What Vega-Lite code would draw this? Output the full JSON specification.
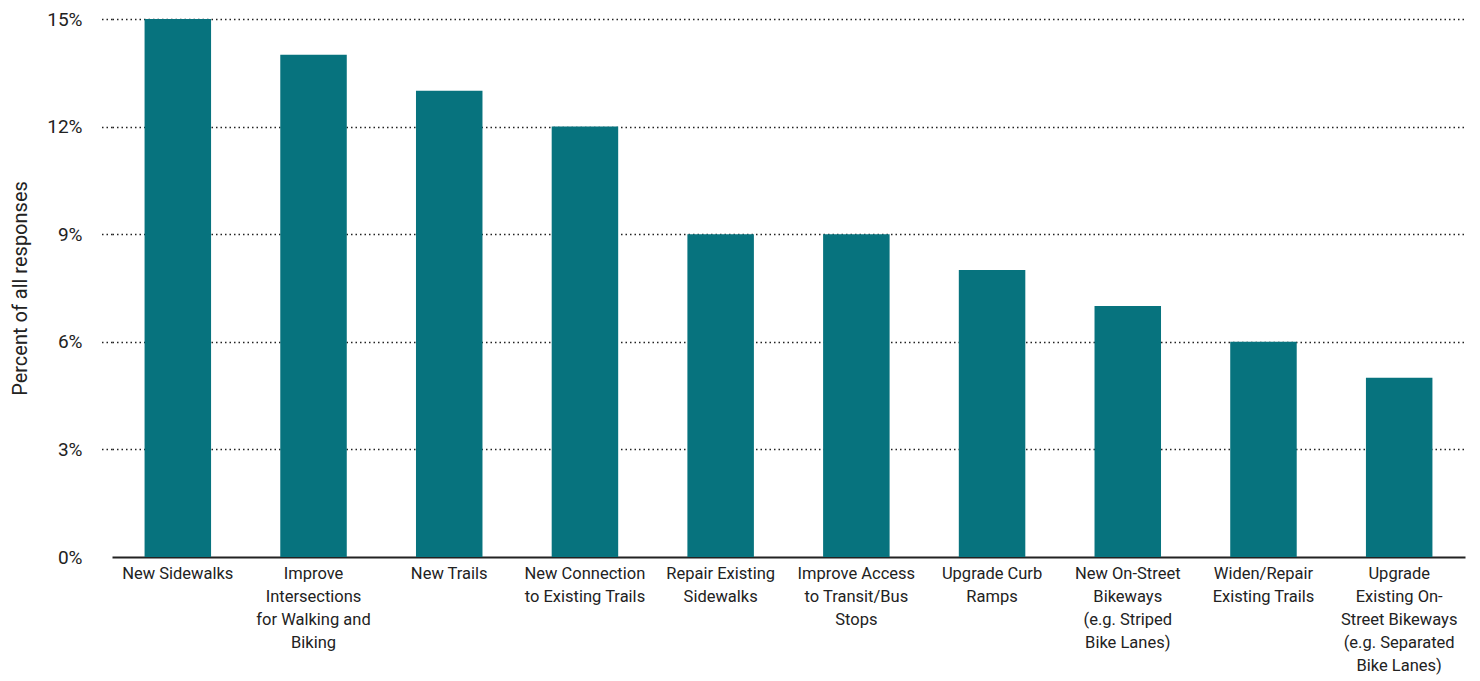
{
  "$schema": "https://vega.github.io/schema/vega-lite/v6.json",
  "width": 1353,
  "height": 538,
  "autosize": {"type": "none"},
  "padding": {"left": 112, "top": 19, "right": 15, "bottom": 124},
  "background": "white",
  "config": {
    "view": {"stroke": null},
    "font": "Roboto"
  },
  "data": {
    "values": [
      {"category": "New Sidewalks", "percent": 15},
      {"category": "Improve\nIntersections\nfor Walking and\nBiking", "percent": 14},
      {"category": "New Trails", "percent": 13},
      {"category": "New Connection\nto Existing Trails", "percent": 12},
      {"category": "Repair Existing\nSidewalks", "percent": 9},
      {"category": "Improve Access\nto Transit/Bus\nStops", "percent": 9},
      {"category": "Upgrade Curb\nRamps", "percent": 8},
      {"category": "New On-Street\nBikeways\n(e.g. Striped\nBike Lanes)", "percent": 7},
      {"category": "Widen/Repair\nExisting Trails", "percent": 6},
      {"category": "Upgrade\nExisting On-\nStreet Bikeways\n(e.g. Separated\nBike Lanes)", "percent": 5}
    ]
  },
  "mark": {"type": "bar", "color": "#07737E"},
  "encoding": {
    "x": {
      "field": "category",
      "type": "nominal",
      "sort": null,
      "title": null,
      "scale": {"paddingInner": 0.51, "paddingOuter": 0.24},
      "axis": {
        "labelAngle": 0,
        "labelExpr": "split(datum.value, '\\n')",
        "labelFontSize": 16.5,
        "labelColor": "#222222",
        "labelLineHeight": 23,
        "labelPadding": 8,
        "labelBaseline": "top",
        "ticks": false,
        "domainColor": "#222222",
        "domainWidth": 2,
        "labelLimit": 0
      }
    },
    "y": {
      "field": "percent",
      "type": "quantitative",
      "title": "Percent of all responses",
      "scale": {"domain": [0, 15], "nice": false},
      "axis": {
        "values": [0, 3, 6, 9, 12, 15],
        "labelExpr": "datum.value + '%'",
        "labelFontSize": 19,
        "labelColor": "#222222",
        "labelPadding": 18,
        "tickSize": 12,
        "tickColor": {"condition": {"test": "datum.value == 0", "value": "transparent"}, "value": "#222222"},
        "tickDash": [1.5, 3],
        "tickWidth": 1.5,
        "grid": true,
        "gridColor": {"condition": {"test": "datum.value == 0", "value": "transparent"}, "value": "#222222"},
        "gridDash": [1.5, 3],
        "gridWidth": 1.5,
        "domain": false,
        "titleFontSize": 20,
        "titleFontWeight": "normal",
        "titleColor": "#222222",
        "titlePadding": 16
      }
    }
  }
}
